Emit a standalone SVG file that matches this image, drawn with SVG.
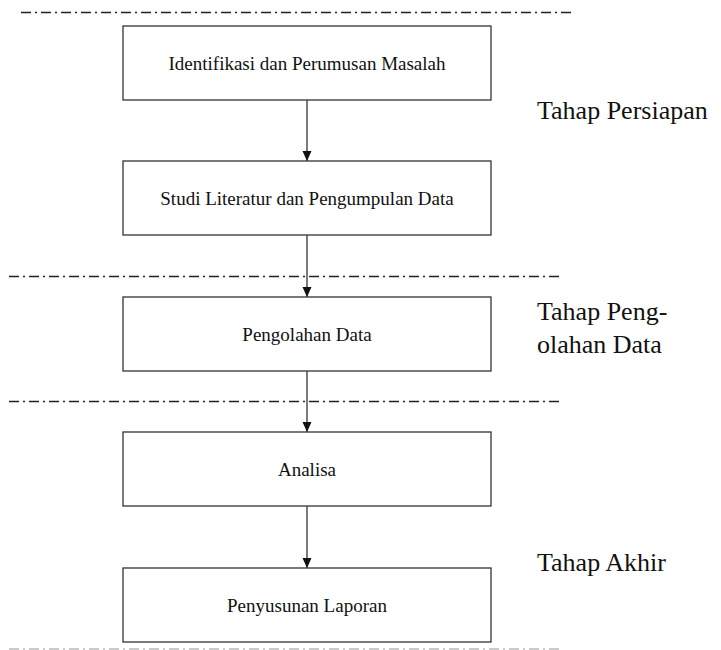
<svg xmlns="http://www.w3.org/2000/svg" width="721" height="650" viewBox="0 0 721 650">
<style>
.box{fill:#fff;stroke:#333;stroke-width:1.3}
text{font-family:'Liberation Serif','Times New Roman',serif;fill:#111}
.lbl{font-size:19px;text-anchor:middle}
.stage{font-size:26px}
.sep{stroke:#222;stroke-width:1.3;stroke-dasharray:10 4 2 4;fill:none}
.sep2{stroke:#bbb;stroke-width:1.3;stroke-dasharray:10 4 2 4;fill:none}
.edge{stroke:#333;stroke-width:1.3;fill:none;marker-end:url(#ah)}
</style>
<defs>
<marker id="ah" viewBox="0 0 10 10" refX="10" refY="5" markerWidth="10" markerHeight="10" markerUnits="userSpaceOnUse" orient="auto">
<path d="M0,0.5 L10,5 L0,9.5 z" fill="#111"/>
</marker>
</defs>
<g id="separators">
<line class="sep" x1="21" y1="12.5" x2="572" y2="12.5"/>
<line class="sep" x1="9" y1="276.5" x2="560" y2="276.5"/>
<line class="sep" x1="9" y1="401.5" x2="560" y2="401.5"/>
<line class="sep2" x1="9" y1="649" x2="560" y2="649"/>
</g>
<g id="connectors">
<line class="edge" x1="307" y1="100" x2="307" y2="161"/>
<line class="edge" x1="307" y1="235" x2="307" y2="297"/>
<line class="edge" x1="307" y1="371" x2="307" y2="432"/>
<line class="edge" x1="307" y1="506" x2="307" y2="568"/>
</g>
<g id="n1"><rect class="box" x="123" y="26" width="368" height="74"/><text class="lbl" x="307" y="70">Identifikasi dan Perumusan Masalah</text></g>
<g id="n2"><rect class="box" x="123" y="161" width="368" height="74"/><text class="lbl" x="307" y="205">Studi Literatur dan Pengumpulan Data</text></g>
<g id="n3"><rect class="box" x="123" y="297" width="368" height="74"/><text class="lbl" x="307" y="341">Pengolahan Data</text></g>
<g id="n4"><rect class="box" x="123" y="432" width="368" height="74"/><text class="lbl" x="307" y="476">Analisa</text></g>
<g id="n5"><rect class="box" x="123" y="568" width="368" height="74"/><text class="lbl" x="307" y="612">Penyusunan Laporan</text></g>
<g id="stages">
<text class="stage" x="537" y="119">Tahap Persiapan</text>
<text class="stage" x="537" y="320">Tahap Peng-</text>
<text class="stage" x="537" y="353">olahan Data</text>
<text class="stage" x="537" y="571">Tahap Akhir</text>
</g>
</svg>
